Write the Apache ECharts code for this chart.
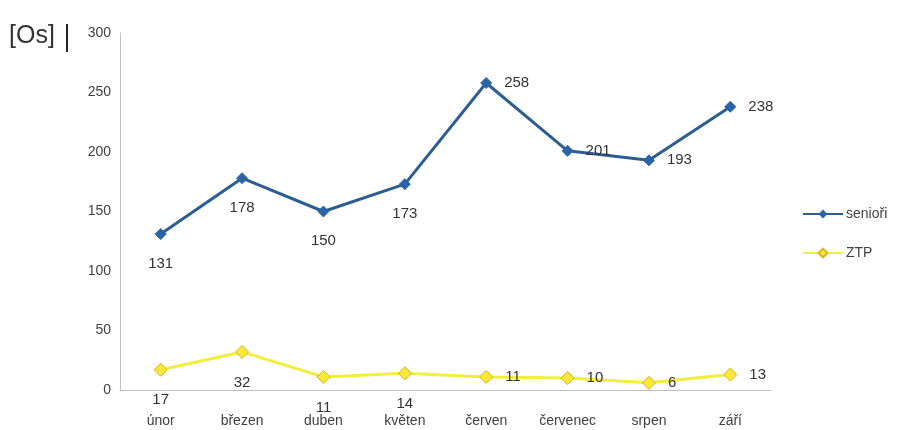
<!DOCTYPE html>
<html>
<head>
<meta charset="utf-8">
<script src="https://cdn.jsdelivr.net/npm/echarts@6/dist/echarts.min.js"></script>
<style>
html,body{margin:0;padding:0;background:#fff;}
#c{width:902px;height:430px;}
</style>
</head>
<body>
<div id="c"></div>
<script>
const categories = ['únor','březen','duben','květen','červen','červenec','srpen','září'];
const seniori = [131,178,150,173,258,201,193,238];
const ztp = [17,32,11,14,11,10,6,13];
const seniorLabelPos = ['bottom','bottom','bottom','bottom','right','right','right','right'];
const ztpLabelPos = ['bottom','bottom','bottom','bottom','right','right','right','right'];
const yTicks = [0,50,100,150,200,250,300];

const font = 'Liberation Sans, Arial, sans-serif';
function mkData(vals, pos){
  return vals.map((v,i)=>({value:v,label:{position:pos[i],distance: pos[i]==='bottom'?16:12}}));
}
const chart = echarts.init(document.getElementById('c'));
chart.setOption({
  animation:false,
  backgroundColor:'#fff',
  grid:{left:120,right:131,top:33,bottom:40,containLabel:false},
  legend:{
    orient:'vertical',left:797,top:202,itemGap:25,itemWidth:40,itemHeight:11,
    textStyle:{fontFamily:font,fontSize:14,color:'#404040',padding:[0,0,0,-2]},
    data:['senioři','ZTP']
  },
  graphic:[
    {type:'text',left:9,top:24,style:{text:'[Os]',font:'25px '+font,fill:'#333'}},
    {type:'rect',shape:{x:66,y:24,width:2,height:28},style:{fill:'#222'}}
  ],
  xAxis:{
    type:'category',data:categories,boundaryGap:true,
    axisLine:{lineStyle:{color:'#bfbfbf',width:1}},
    axisTick:{show:false},
    axisLabel:{fontFamily:font,fontSize:14,color:'#404040',margin:24}
  },
  yAxis:{
    type:'value',min:0,max:300,interval:50,
    axisLine:{show:true,lineStyle:{color:'#bfbfbf',width:1}},
    axisTick:{show:false},
    splitLine:{show:false},
    axisLabel:{fontFamily:font,fontSize:14,color:'#404040',margin:9,
      formatter:v=>yTicks.includes(v)?String(v):''}
  },
  series:[
    {
      name:'senioři',type:'line',data:mkData(seniori,seniorLabelPos),
      symbol:'diamond',symbolSize:11,
      lineStyle:{color:'#2d5e93',width:3},
      itemStyle:{color:'#2a64a6',borderColor:'#2a64a6'},
      label:{show:true,fontFamily:font,fontSize:15,color:'#333'}
    },
    {
      name:'ZTP',type:'line',data:mkData(ztp,ztpLabelPos),
      symbol:'diamond',symbolSize:13,
      lineStyle:{color:'#f2ee3c',width:3},
      itemStyle:{color:'#fde83a',borderColor:'#d9b21a',borderWidth:1},
      label:{show:true,fontFamily:font,fontSize:15,color:'#333'}
    }
  ]
});
</script>
</body>
</html>
